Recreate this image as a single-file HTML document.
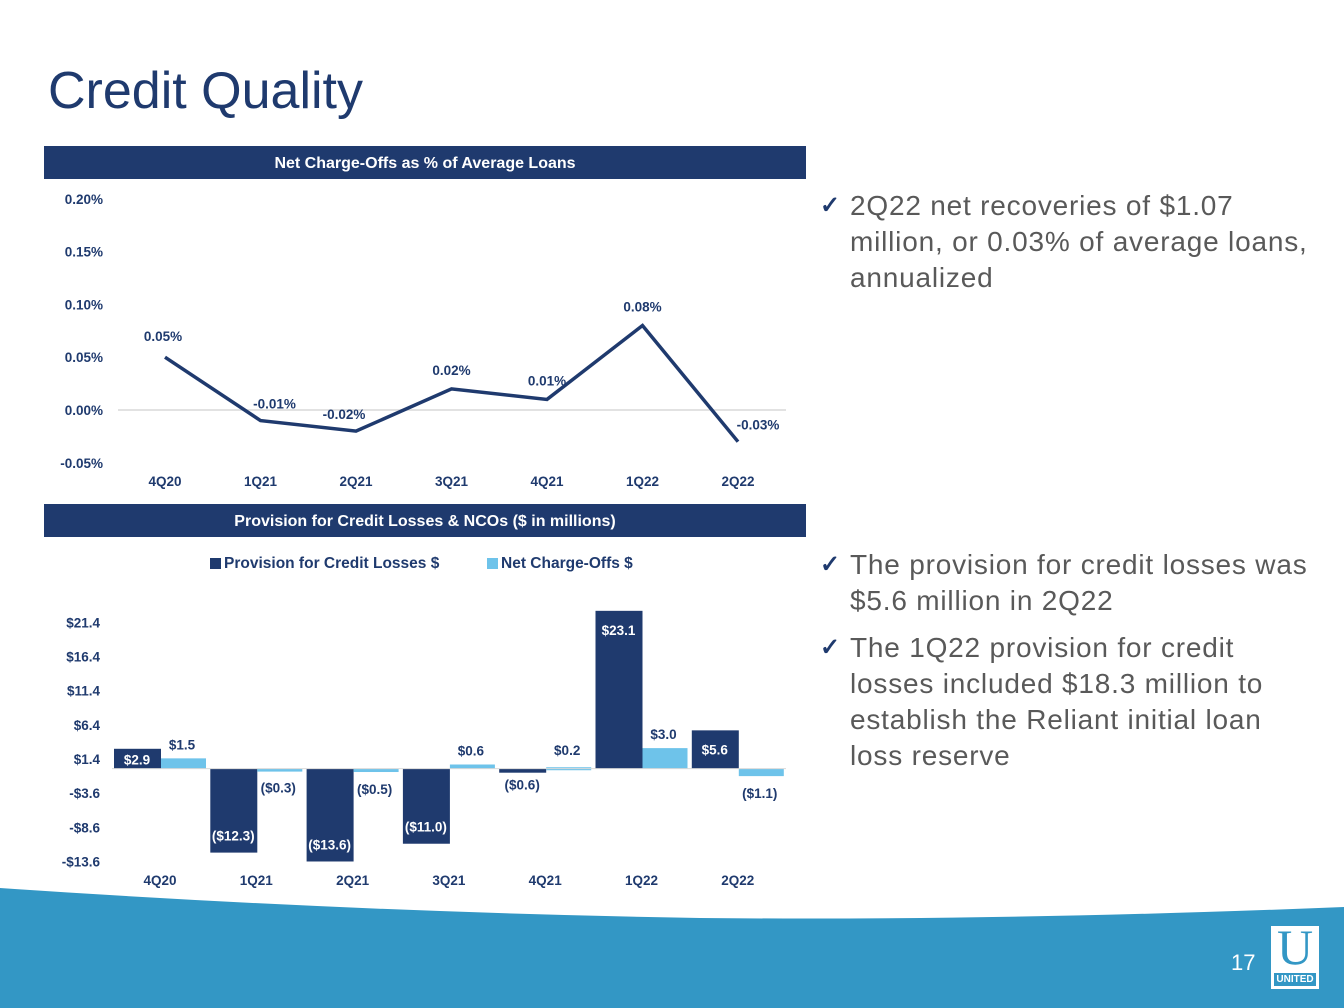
<!DOCTYPE html>
<html><head><meta charset="utf-8"><style>
body{margin:0;width:1344px;height:1008px;overflow:hidden;background:#fff;font-family:"Liberation Sans",Arial,sans-serif;position:relative}
.t{position:absolute}
.bullet{position:absolute;left:820px;color:#595959;font-size:28px;line-height:36px;width:520px}
.bullet .ck{position:absolute;left:0;top:0;color:#1f3a6e;font-size:24px;font-weight:bold}
.bullet .tx{margin-left:30px;display:block;white-space:nowrap;letter-spacing:0.8px}
</style></head><body>
<svg width="1344" height="1008" style="position:absolute;left:0;top:0">
<path d="M0,888 Q350,912 700,918 Q1000,921 1344,907 L1344,1008 L0,1008Z" fill="#3397c5"/>
</svg>
<div class="t" style="left:48px;top:61px;font-size:52px;color:#1f3a6e">Credit Quality</div>

<div class="t" style="left:44px;top:146px;width:762px;height:33px;background:#1f3a6e;color:#fff;font-weight:bold;font-size:16px;text-align:center;line-height:35px">Net Charge-Offs as % of Average Loans</div>
<div class="t" style="left:44px;top:504px;width:762px;height:33px;background:#1f3a6e;color:#fff;font-weight:bold;font-size:16px;text-align:center;line-height:35px">Provision for Credit Losses &amp; NCOs ($ in millions)</div>

<svg id="c1" width="1344" height="1008" style="position:absolute;left:0;top:0"></svg>
<svg id="c2" width="1344" height="1008" style="position:absolute;left:0;top:0"></svg>

<div class="bullet" style="top:188px"><span class="ck">✓</span><span class="tx">2Q22 net recoveries of $1.07<br>million, or 0.03% of average loans,<br>annualized</span></div>
<div class="bullet" style="top:547px"><span class="ck">✓</span><span class="tx">The provision for credit losses was<br>$5.6 million in 2Q22</span></div>
<div class="bullet" style="top:630px"><span class="ck">✓</span><span class="tx">The 1Q22 provision for credit<br>losses included $18.3 million to<br>establish the Reliant initial loan<br>loss reserve</span></div>

<div class="t" style="left:1231px;top:950px;color:#fff;font-size:22px">17</div>
<div class="t" style="left:1271px;top:926px;width:48px;height:63px;background:#fff">
<div style="position:absolute;left:0;top:-4px;width:48px;text-align:center;font-family:'Liberation Serif',serif;font-size:50px;color:#3397c5;line-height:50px">U</div>
<div style="position:absolute;left:3px;top:47px;width:42px;height:13px;background:#3397c5;color:#fff;font-size:10px;font-weight:bold;text-align:center;line-height:13px">UNITED</div>
</div>

<script>
const NS="http://www.w3.org/2000/svg";
function mk(svg,tag,attrs,text){const e=document.createElementNS(NS,tag);for(const k in attrs)e.setAttribute(k,attrs[k]);if(text!==undefined)e.textContent=text;svg.appendChild(e);return e;}

const categories=["4Q20","1Q21","2Q21","3Q21","4Q21","1Q22","2Q22"];
const ncoPct=[0.05,-0.01,-0.02,0.02,0.01,0.08,-0.03];
const ncoLabels=["0.05%","-0.01%","-0.02%","0.02%","0.01%","0.08%","-0.03%"];
const pctTicks=[0.20,0.15,0.10,0.05,0.00,-0.05];
const provision=[2.9,-12.3,-13.6,-11.0,-0.6,23.1,5.6];
const netChargeOffs=[1.5,-0.3,-0.5,0.6,0.2,3.0,-1.1];
const dollarTicks=[21.4,16.4,11.4,6.4,1.4,-3.6,-8.6,-13.6];

// Top chart
const c1=document.getElementById('c1');
const x1=i=>165+i*95.5;
const y1=v=>410-v*1056;
pctTicks.forEach(v=>{const t=mk(c1,'text',{x:103,y:y1(v)+5,'text-anchor':'end','font-size':13.5,'font-weight':'bold',fill:'#1f3a6e'},v.toFixed(2)+'%');

});
const g0=mk(c1,'line',{x1:118,x2:786,y1:y1(0),y2:y1(0),stroke:'#d9d9d9','stroke-width':1.5});


const pl=mk(c1,'polyline',{points:ncoPct.map((v,i)=>x1(i)+','+y1(v)).join(' '),fill:'none',stroke:'#1f3a6e','stroke-width':3.5,'stroke-linejoin':'miter'});


ncoPct.forEach((v,i)=>{
 let dx=0,dy=-14;
 if(i==1){dx=14;dy=-12;}
 if(i==2){dx=-12;dy=-12;}
 if(i==6){dx=20;dy=-12;}
 if(i==0){dx=-2;dy=-16;}
 const t=mk(c1,'text',{x:x1(i)+dx,y:y1(v)+dy,'text-anchor':'middle','font-size':13.5,'font-weight':'bold',fill:'#1f3a6e'},ncoLabels[i]);
 
 
 const c=mk(c1,'text',{x:x1(i),y:486,'text-anchor':'middle','font-size':13.5,'font-weight':'bold',fill:'#1f3a6e'},categories[i]);
 
 
});

// Bottom chart
const c2=document.getElementById('c2');
const x2=i=>160+i*96.3;
const y2=v=>768.6-v*6.83;
dollarTicks.forEach(v=>{const t=mk(c2,'text',{x:100,y:y2(v)+5,'text-anchor':'end','font-size':13.5,'font-weight':'bold',fill:'#1f3a6e'},(v<0?'-$':'$')+Math.abs(v).toFixed(1));

});
const fmt=v=>v<0?'($'+Math.abs(v).toFixed(1)+')':'$'+v.toFixed(1);
categories.forEach((c,i)=>{
 const cx=x2(i);
 const p=provision[i],n=netChargeOffs[i];
 const b=mk(c2,'rect',{x:cx-46,y:Math.min(y2(p),y2(0)),width:47,height:Math.abs(y2(p)-y2(0)),fill:'#1f3a6e'});
 
 
 const b2=mk(c2,'rect',{x:cx+1,y:Math.min(y2(n),y2(0)),width:45,height:Math.max(Math.abs(y2(n)-y2(0)),3),fill:'#6ec3ea'});
 
 
 let py,pc='#fff';
 if(p>=0){py=(i==0)?y2(0)-4:y2(p)+24;} else {py=y2(p)-12;}
 if(p<0&&p>-2){py=y2(p)+17;pc='#1f3a6e';}
 const pt=mk(c2,'text',{x:cx-23,y:py,'text-anchor':'middle','font-size':13.5,'font-weight':'bold',fill:pc},fmt(p));
 
 
 let ny=n>=0?y2(n)-9:y2(n)+22;
 if(i==4)ny=y2(n)-12;
 const nt=mk(c2,'text',{x:cx+22,y:ny,'text-anchor':'middle','font-size':13.5,'font-weight':'bold',fill:'#1f3a6e'},fmt(n));
 
 
 const ct=mk(c2,'text',{x:cx,y:885,'text-anchor':'middle','font-size':13.5,'font-weight':'bold',fill:'#1f3a6e'},c);
 
 
});
const zl=mk(c2,'line',{x1:112,x2:786,y1:y2(0),y2:y2(0),stroke:'#d9d9d9','stroke-width':1});


const lg=[[210,'#1f3a6e','Provision for Credit Losses $'],[487,'#6ec3ea','Net Charge-Offs $']];
lg.forEach(l=>{const r=mk(c2,'rect',{x:l[0],y:558,width:11,height:11,fill:l[1]});


const t=mk(c2,'text',{x:l[0]+14,y:568,'font-size':15.5,'font-weight':'bold',fill:'#1f3a6e'},l[2]);

});
</script>
</body></html>
